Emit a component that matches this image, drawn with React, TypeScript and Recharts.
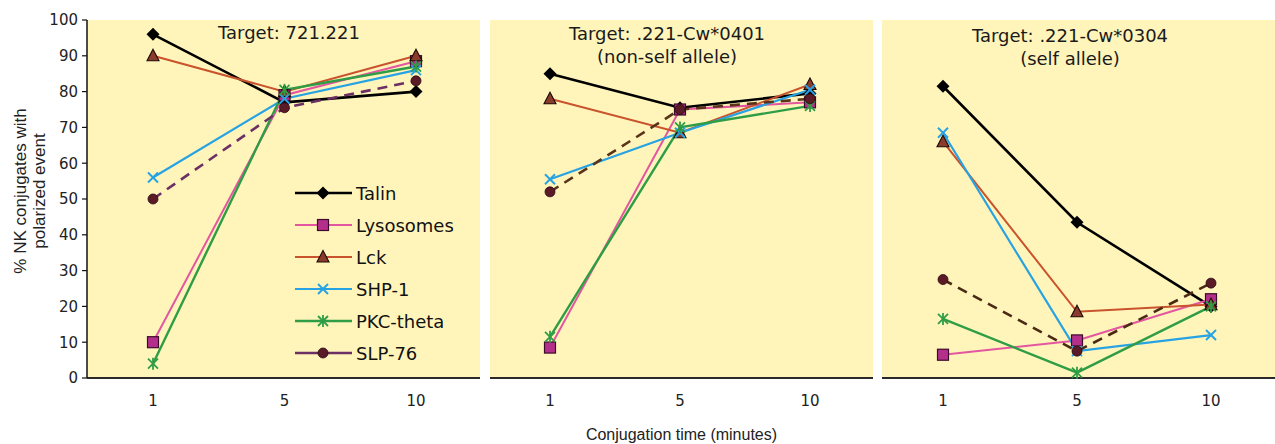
import React from 'react';
import { LineChart, Line, XAxis, YAxis, CartesianGrid, Legend, Label } from 'recharts';

const times = ['1', '5', '10'];
const seriesNames = ['Talin', 'Lysosomes', 'Lck', 'SHP-1', 'PKC-theta', 'SLP-76'];
const yTicks = [0, 10, 20, 30, 40, 50, 60, 70, 80, 90, 100];

const panelTitles = [
  ['Target: 721.221'],
  ['Target: .221-Cw*0401', '(non-self allele)'],
  ['Target: .221-Cw*0304', '(self allele)'],
];
const xAxisTitle = 'Conjugation time (minutes)';
const yAxisTitle = ['% NK conjugates with', 'polarized event'];

// Panel 1: 721.221
const talinA = [96, 77, 80];
const lysosomesA = [10, 79, 88.5];
const lckA = [90, 80, 90];
const shp1A = [56, 78, 86];
const pkcA = [4, 80.5, 87];
const slp76A = [50, 75.5, 83];

// Panel 2: .221-Cw*0401
const talinB = [85, 75.5, 79.5];
const lysosomesB = [8.5, 75, 77];
const lckB = [78, 68.5, 82];
const shp1B = [55.5, 68.5, 80.5];
const pkcB = [11.5, 70, 76];
const slp76B = [52, 75, 78];

// Panel 3: .221-Cw*0304
const talinC = [81.5, 43.5, 20];
const lysosomesC = [6.5, 10.5, 22];
const lckC = [66, 18.5, 20.5];
const shp1C = [68.5, 7.5, 12];
const pkcC = [16.5, 1.5, 20];
const slp76C = [27.5, 7.5, 26.5];

const build = (cols: number[][]) =>
  times.map((t, i) => {
    const row: any = { t };
    seriesNames.forEach((n, k) => (row[n] = cols[k][i]));
    return row;
  });

const dataA = build([talinA, lysosomesA, lckA, shp1A, pkcA, slp76A]);
const dataB = build([talinB, lysosomesB, lckB, shp1B, pkcB, slp76B]);
const dataC = build([talinC, lysosomesC, lckC, shp1C, pkcC, slp76C]);

type Style = { line: string; width: number; dash?: string; marker: string };
const styles: Record<string, Style> = {
  Talin: { line: '#000000', width: 2.6, marker: 'diamond' },
  Lysosomes: { line: '#e2579f', width: 2, marker: 'square' },
  Lck: { line: '#c8532c', width: 2, marker: 'triangle' },
  'SHP-1': { line: '#27a2e2', width: 2.2, marker: 'x' },
  'PKC-theta': { line: '#2f9d45', width: 2.4, marker: 'star' },
  'SLP-76': { line: '#6c2f63', width: 2.6, dash: '10 7', marker: 'circle' },
};
const slpColors = ['#6c2f63', '#5a3419', '#4b2a14'];

const FONT_T = '"DejaVu Sans", Verdana, sans-serif';
const FONT_A = '"Liberation Sans", Arial, sans-serif';
const YELLOW = '#fff5bb';

function Marker({ kind, cx, cy, color }: { kind: string; cx: number; cy: number; color: string }) {
  if (cx == null || cy == null) return null;
  switch (kind) {
    case 'diamond':
      return <polygon points={`${cx},${cy - 6.5} ${cx + 6.5},${cy} ${cx},${cy + 6.5} ${cx - 6.5},${cy}`} fill="#000" />;
    case 'square':
      return <rect x={cx - 5.5} y={cy - 5.5} width={11} height={11} fill="#b42f8c" stroke="#3c0b2a" strokeWidth={1.2} />;
    case 'triangle':
      return <polygon points={`${cx},${cy - 6.5} ${cx + 6},${cy + 5} ${cx - 6},${cy + 5}`} fill="#8a3b2b" stroke="#1c0a05" strokeWidth={1.1} />;
    case 'x':
      return (
        <g stroke={color} strokeWidth={2}>
          <line x1={cx - 5} y1={cy - 5} x2={cx + 5} y2={cy + 5} />
          <line x1={cx - 5} y1={cy + 5} x2={cx + 5} y2={cy - 5} />
        </g>
      );
    case 'star':
      return (
        <g stroke={color} strokeWidth={1.8}>
          <line x1={cx - 5} y1={cy - 5} x2={cx + 5} y2={cy + 5} />
          <line x1={cx - 5} y1={cy + 5} x2={cx + 5} y2={cy - 5} />
          <line x1={cx} y1={cy - 6} x2={cx} y2={cy + 6} />
        </g>
      );
    case 'circle':
      return <circle cx={cx} cy={cy} r={5} fill="#5a1a26" stroke="#2a0a10" strokeWidth={0.8} />;
  }
  return null;
}

const LegendContent = () => (
  <div style={{ fontFamily: FONT_T, fontSize: 18, color: '#111' }}>
    {seriesNames.map((n) => {
      const s = styles[n];
      return (
        <div key={n} style={{ display: 'flex', alignItems: 'center', height: 32 }}>
          <svg width={60} height={20} style={{ display: 'block' }}>
            <line x1={0} y1={10} x2={57} y2={10} stroke={s.line} strokeWidth={s.width} />
            <Marker kind={s.marker} cx={28} cy={10} color={s.line} />
          </svg>
          <span style={{ marginLeft: 1 }}>{n}</span>
        </div>
      );
    })}
  </div>
);

function Panel({
  data,
  width,
  left,
  showY,
  padding,
  panelIndex,
}: {
  data: any[];
  width: number;
  left: number;
  showY: boolean;
  padding: { left: number; right: number };
  panelIndex: number;
}) {
  return (
    <div style={{ position: 'absolute', left, top: 0 }}>
      <LineChart width={width} height={444} data={data} margin={{ top: 20, right: 0, left: 0, bottom: 0 }}>
        <CartesianGrid horizontal={false} vertical={false} fill={YELLOW} stroke="none" />
        <XAxis
          dataKey="t"
          height={66}
          padding={padding}
          tickLine={false}
          tickSize={0}
          tickMargin={17}
          axisLine={{ stroke: '#2a2a2a', strokeWidth: 2 }}
          tick={{ fontFamily: FONT_T, fontSize: 15, fill: '#222' }}
        >
          {panelIndex === 1 ? (
            <Label value={xAxisTitle} position="insideBottom" offset={4} style={{ fontFamily: FONT_A, fontSize: 16, fill: '#222' }} />
          ) : null}
        </XAxis>
        <YAxis
          domain={[0, 100]}
          ticks={yTicks}
          hide={!showY}
          width={87}
          tickSize={5}
          tickMargin={4}
          interval={0}
          axisLine={{ stroke: '#111', strokeWidth: 1.5 }}
          tickLine={{ stroke: '#111', strokeWidth: 1.2 }}
          tick={{ fontFamily: FONT_T, fontSize: 15, fill: '#222' }}
        />
        {showY ? (
          <Legend
            layout="vertical"
            align="center"
            verticalAlign="middle"
            content={<LegendContent />}
            wrapperStyle={{ left: 295, top: 177, width: 180, height: 195 }}
          />
        ) : null}
        {seriesNames.map((n) => {
          const s = styles[n];
          const color = n === 'SLP-76' ? slpColors[panelIndex] : s.line;
          return (
            <Line
              key={n}
              type="linear"
              dataKey={n}
              stroke={color}
              strokeWidth={s.width}
              strokeDasharray={s.dash}
              isAnimationActive={false}
              activeDot={false}
              dot={(p: any) => <Marker key={`${n}-${p.index}`} kind={s.marker} cx={p.cx} cy={p.cy} color={color} />}
            />
          );
        })}
      </LineChart>
    </div>
  );
}

const titleStyle: React.CSSProperties = {
  position: 'absolute',
  fontFamily: FONT_T,
  fontSize: 18,
  color: '#1a1a1a',
  textAlign: 'center',
  lineHeight: '23px',
  width: 300,
  whiteSpace: 'nowrap',
};

export default function App() {
  return (
    <div style={{ position: 'absolute', left: 0, top: 0, width: 1275, height: 444, background: '#fff', overflow: 'hidden' }}>
      <Panel data={dataA} width={480} left={0} showY padding={{ left: 66, right: 64 }} panelIndex={0} />
      <Panel data={dataB} width={383} left={490} showY={false} padding={{ left: 60, right: 63 }} panelIndex={1} />
      <Panel data={dataC} width={393} left={882} showY={false} padding={{ left: 61, right: 64 }} panelIndex={2} />
      <div
        style={{
          position: 'absolute',
          left: 31 - 110,
          top: 191 - 20,
          width: 220,
          height: 40,
          transform: 'rotate(-90deg)',
          transformOrigin: '110px 20px',
          fontFamily: FONT_A,
          fontSize: 17,
          lineHeight: '19px',
          color: '#222',
          textAlign: 'center',
          whiteSpace: 'nowrap',
        }}
      >
        {yAxisTitle.map((l) => <div key={l}>{l}</div>)}
      </div>
      <div style={{ ...titleStyle, left: 289 - 150, top: 21 }}>
        {panelTitles[0].map((l) => <div key={l}>{l}</div>)}
      </div>
      <div style={{ ...titleStyle, left: 667 - 150, top: 22 }}>
        {panelTitles[1].map((l) => <div key={l}>{l}</div>)}
      </div>
      <div style={{ ...titleStyle, left: 1070 - 150, top: 24 }}>
        {panelTitles[2].map((l) => <div key={l}>{l}</div>)}
      </div>
    </div>
  );
}
